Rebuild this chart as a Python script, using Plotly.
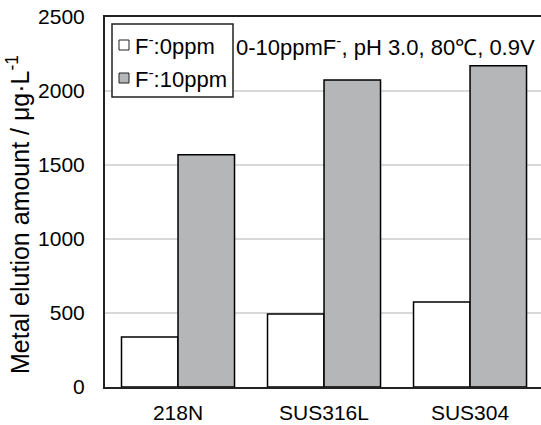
import plotly.graph_objects as go

categories = ["218N", "SUS316L", "SUS304"]
f0_values = [338, 493, 574]
f10_values = [1570, 2075, 2170]
series_names = ["F<sup>-</sup>:0ppm", "F<sup>-</sup>:10ppm"]
series_colors = ["white", "#b5b6b8"]
y_ticks = [0, 500, 1000, 1500, 2000, 2500]

FONT = "Liberation Sans, Arial, sans-serif"

W, H = 541, 425
ML, MR, MT, MB = 105, 0, 17, 38
PW, PH = W - ML - MR, H - MT - MB


def px(x):
    return (x - ML) / PW


def py(y):
    return (H - MB - y) / PH


fig = go.Figure()
for name, vals, col in zip(series_names, [f0_values, f10_values], series_colors):
    fig.add_trace(go.Bar(x=categories, y=vals, name=name, showlegend=False,
                         marker=dict(color=col, line=dict(color="black", width=1.5))))

fig.update_layout(
    width=W, height=H,
    margin=dict(l=ML, r=MR, t=MT, b=MB),
    paper_bgcolor="white", plot_bgcolor="white",
    barmode="group", bargap=0.226, bargroupgap=0,
    font=dict(family=FONT, size=21, color="black"),
)
fig.update_xaxes(range=[-0.5, 2.486], showline=True, linecolor="#222", linewidth=2,
                 mirror=True, ticks="", ticklabelstandoff=6, tickfont=dict(size=21))
fig.update_yaxes(range=[0, 2500], tickvals=y_ticks, showline=True, linecolor="#222",
                 linewidth=2, showgrid=True, gridcolor="#d9d9d9", gridwidth=1.5,
                 ticks="", ticklabelstandoff=14, tickfont=dict(size=21), zeroline=False)

# custom legend box
fig.add_shape(type="rect", xref="paper", yref="paper",
              x0=px(112), x1=px(233), y0=py(97), y1=py(24),
              line=dict(color="#222", width=1.5), fillcolor="white", layer="above")
for i, (name, col) in enumerate(zip(series_names, series_colors)):
    yc = 45 + 33 * i
    fig.add_shape(type="rect", xref="paper", yref="paper",
                  x0=px(119), x1=px(129), y0=py(yc + 5), y1=py(yc - 5),
                  line=dict(color="#222", width=1), fillcolor=col, layer="above")
    fig.add_annotation(text=name, xref="paper", yref="paper", x=px(133), y=py(yc),
                       xanchor="left", yanchor="middle", showarrow=False,
                       font=dict(size=22))

fig.add_annotation(text="Metal elution amount / μg·L<sup>-1</sup>", textangle=-90,
                   xref="paper", yref="paper", x=px(18), y=py(215),
                   xanchor="center", yanchor="middle", showarrow=False,
                   font=dict(size=25))
fig.add_annotation(text="0-10ppmF<sup>-</sup>, pH 3.0, 80℃, 0.9V",
                   xref="paper", yref="paper", x=px(537), y=py(46),
                   xanchor="right", yanchor="middle", showarrow=False,
                   font=dict(size=22))

fig.write_html("out.html")
